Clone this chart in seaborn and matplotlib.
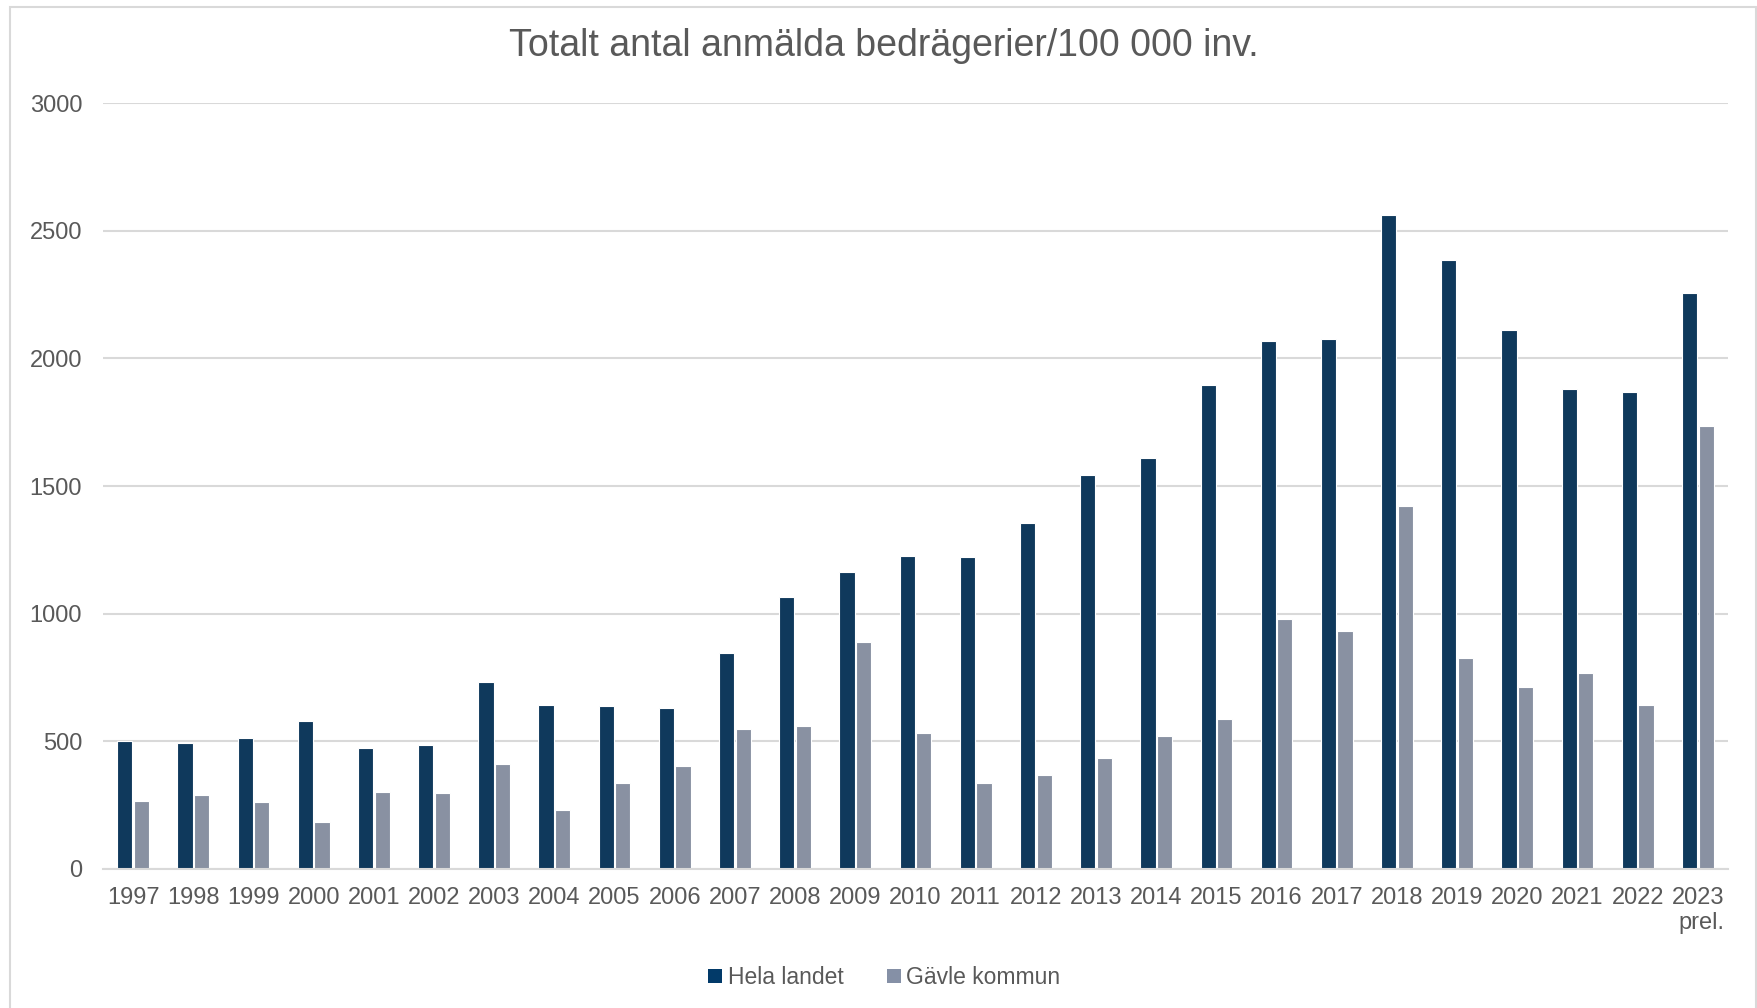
import pandas as pd
import seaborn as sns
import matplotlib.pyplot as plt
from matplotlib.patches import Rectangle, Patch

years = ["1997", "1998", "1999", "2000", "2001", "2002", "2003", "2004", "2005",
         "2006", "2007", "2008", "2009", "2010", "2011", "2012", "2013", "2014",
         "2015", "2016", "2017", "2018", "2019", "2020", "2021", "2022", "2023\nprel."]
hela_landet = [500, 492, 514, 580, 474, 487, 733, 641, 637, 632, 847, 1067, 1163,
               1225, 1220, 1357, 1545, 1611, 1897, 2068, 2077, 2560, 2384, 2112,
               1879, 1870, 2257]
gavle = [268, 290, 263, 184, 303, 299, 413, 233, 338, 404, 549, 562, 891, 531,
         338, 369, 435, 522, 588, 979, 931, 1422, 825, 711, 768, 641, 1734]
series = ["Hela landet", "Gävle kommun"]
colors = ["#023A69", "#8590A6"]

df = pd.DataFrame({
    "year": years * 2,
    "value": hela_landet + gavle,
    "serie": [series[0]] * len(years) + [series[1]] * len(years),
})

sns.set_style("white")
plt.rcParams["font.family"] = ["Liberation Sans", "DejaVu Sans"]
text_col = "#595959"
grid_col = "#D9D9D9"

fig = plt.figure(figsize=(17.58, 10.08), dpi=100)
ax = fig.add_axes([0.0586, 0.1379, 0.9243, 0.7599])

sns.barplot(data=df, x="year", y="value", hue="serie", palette=colors,
            width=0.55, gap=0.08, edgecolor="white", linewidth=0.8,
            legend=False, ax=ax)

ax.set_ylim(0, 3000)
ax.set_xlim(-0.5, len(years) - 0.5)
ax.set_yticks(range(0, 3001, 500))
ax.yaxis.grid(True, color=grid_col, linewidth=1.5)
ax.set_axisbelow(True)
for s in ["left", "right", "top"]:
    ax.spines[s].set_visible(False)
ax.spines["bottom"].set_color(grid_col)
ax.spines["bottom"].set_linewidth(1.5)
ax.set_xlabel("")
ax.set_ylabel("")
ax.tick_params(axis="x", length=0, pad=13, labelsize=17, labelcolor=text_col)
ax.tick_params(axis="y", length=0, pad=15, labelsize=17, labelcolor=text_col)
for lbl in ax.get_xticklabels():
    lbl.set_multialignment("right")

fig.text(0.503, 0.954, "Totalt antal anmälda bedrägerier/100 000 inv.",
         ha="center", va="center", fontsize=27, color=text_col)

handles = [Patch(facecolor=c, edgecolor="none") for c in colors]
fig.legend(handles, series, loc="center", bbox_to_anchor=(0.503, 0.03),
           ncol=2, frameon=False, fontsize=16.5, labelcolor=text_col,
           handlelength=0.6, handleheight=0.6, handletextpad=0.25,
           columnspacing=1.9)

# light frame around the chart area
fig.patches.append(Rectangle((10 / 1758, -0.01), 1746 / 1758, 1.003,
                             transform=fig.transFigure, fill=False,
                             edgecolor=grid_col, linewidth=1.5))

fig.savefig("out.png", dpi=100, facecolor="white")
